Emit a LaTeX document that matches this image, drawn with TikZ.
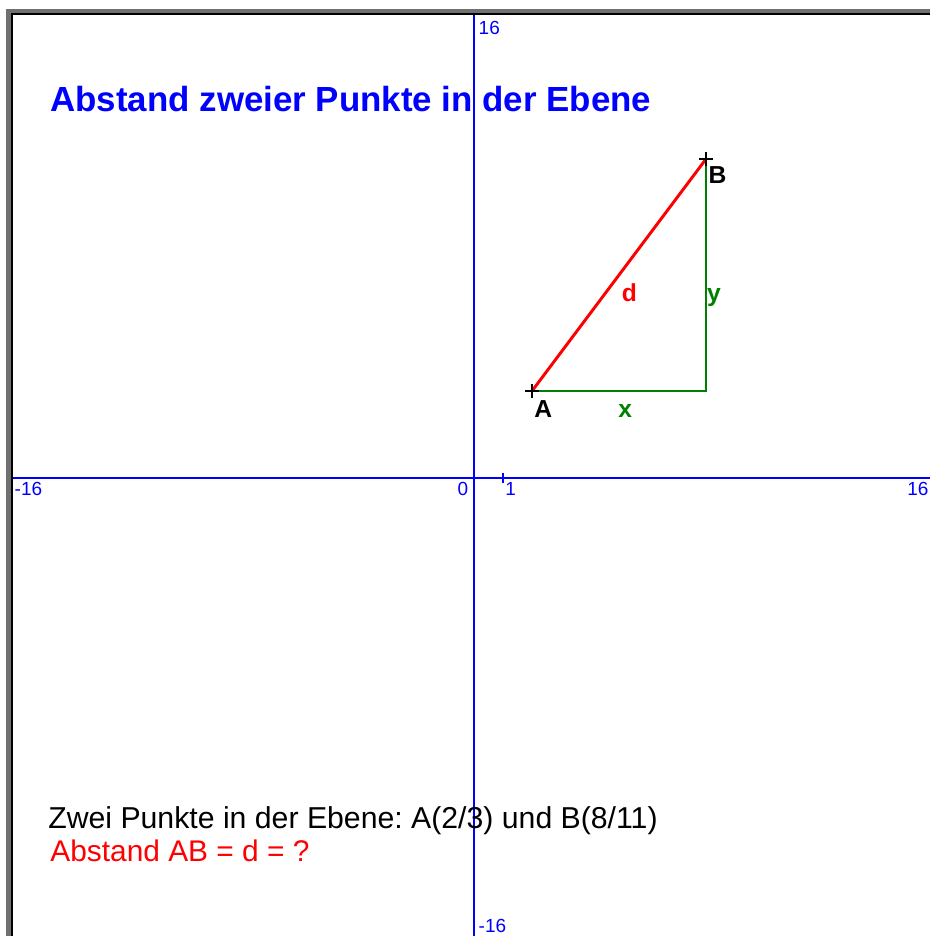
\documentclass[tikz,border=0pt]{standalone}
\usepackage{fontspec}
\setmainfont{Liberation Sans}
\usetikzlibrary{positioning}
\frenchspacing
\definecolor{geoblue}{RGB}{0,0,255}
\definecolor{geored}{RGB}{255,0,0}
\definecolor{geogreen}{RGB}{0,128,0}
\definecolor{framegray}{RGB}{112,112,112}
\tikzset{
    % Axes and their numbers
    axisline/.style={line width=0.85pt, geoblue},
    axisnum/.style={inner sep=0pt, text=geoblue, font=\fontsize{10.8}{12}\selectfont},
    % Triangle sides
    distline/.style={line width=1.7pt, geored, line cap=round},
    legline/.style={line width=0.85pt, geogreen},
    % Point labels and side labels
    ptlabel/.style={inner sep=0pt, font=\fontsize{14}{16}\selectfont\bfseries},
    sidelabel/.style={ptlabel, anchor=base},
    % Texts
    titletext/.style={inner sep=0pt, anchor=base west, text=geoblue,
        font=\fontsize{19.85}{22}\selectfont\bfseries},
    infotext/.style={inner sep=0pt, anchor=base west, font=\fontsize{17.2}{20}\selectfont},
    asktext/.style={infotext, text=geored, font=\fontsize{17}{20}\selectfont},
    cross/.style={line width=1.1pt, black},
}
\begin{document}
\begin{tikzpicture}[x=0.58cm, y=0.58cm]
    \useasboundingbox (-16.345,-15.793) rectangle (15.724,16.483);
    % window frame
    \fill[framegray] (-16.14,-15.793) rectangle (15.724,16.17);
    \fill[white] (-15.90,-15.793) rectangle (15.724,15.97);
    \draw[black, line width=1pt] (-15.94,-15.793) -- (-15.94,16.0) -- (15.724,16.0);
    % axes
    \coordinate (xl) at (-15.90,0);
    \coordinate (xr) at (15.724,0);
    \coordinate (yt) at (0,15.97);
    \coordinate (yb) at (0,-15.793);
    \draw[axisline] (xl) -- (xr);
    \draw[axisline] (yb) -- (yt);
    \draw[axisline] (1,-0.17) -- (1,0.17);
    \node[axisnum, anchor=base west] (ytop) at (0.15,15.31) {16};
    \node[axisnum, anchor=base west] (ybot) at (0.15,-15.655) {-16};
    \node[axisnum, anchor=base west] (xleft) at (-15.85,-0.62) {-16};
    \node[axisnum, anchor=base east] (xright) at (15.68,-0.62) {16};
    \node[axisnum, anchor=base east] (orig) at (-0.19,-0.62) {0};
    \node[axisnum, anchor=base west] (xone) at (1.07,-0.62) {1};
    % the points and the right triangle
    \coordinate (A) at (2,3);
    \coordinate (B) at (8,11);
    \coordinate (C) at (8,3);
    \draw[legline] (A) -- (C) -- (B);
    \draw[distline] (A) -- (B);
    \foreach \p in {A,B}{
        \draw[cross] ([xshift=-0.14cm]\p) -- ([xshift=0.14cm]\p);
        \draw[cross] ([yshift=-0.14cm]\p) -- ([yshift=0.14cm]\p);
    }
    \node[ptlabel, anchor=base west] (Alab) at (2.07,2.1) {A};
    \node[ptlabel, anchor=base west] (Blab) at (8.08,10.17) {B};
    \node[sidelabel, text=geored] (dlab) at (5.36,6.07) {d};
    \node[sidelabel, text=geogreen] (xlab) at (5.21,2.1) {x};
    \node[ptlabel, anchor=base west, text=geogreen] (ylab) at (8.03,6.07) {y};
    % texts
    \node[titletext] (title) at (-14.62,12.655) {Abstand zweier Punkte in der Ebene};
    \node[infotext] (given) at (-14.69,-12.103) {Zwei Punkte in der Ebene: A(2/3) und B(8/11)};
    \node[asktext] (ask) at (-14.62,-13.207) {Abstand AB = d = ?};
\end{tikzpicture}
\end{document}
